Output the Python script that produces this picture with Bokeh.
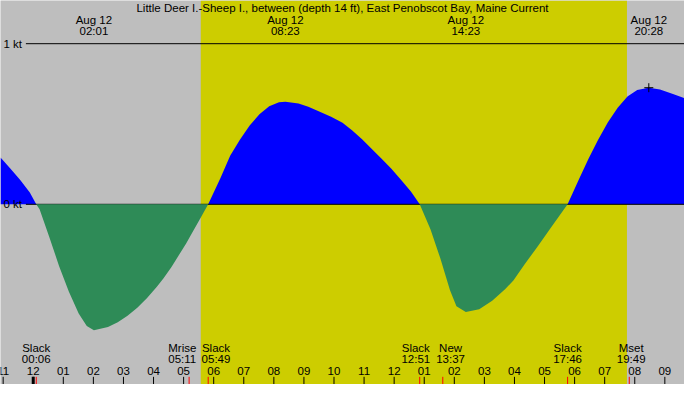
import numpy as np
from bokeh.plotting import figure
from bokeh.models import Range1d
from bokeh.core.properties import value
from bokeh.embed import file_html
from bokeh.resources import INLINE

TITLE = "Little Deer I.-Sheep I., between (depth 14 ft), East Penobscot Bay, Maine Current"

# current speed (kt), hours after midnight Aug 12
hours = [-1.088, -0.763, -0.439, -0.114, 0.10, 0.211, 0.536, 0.861, 1.186, 1.511,
         1.780, 2.017, 2.485, 2.810, 3.135, 3.460, 3.785, 4.110, 4.327, 4.597,
         5.084, 5.247, 5.572, 5.817, 6.222, 6.547, 6.871, 7.196, 7.521, 7.846,
         8.171, 8.383, 8.821, 9.146, 9.471, 9.903, 10.283, 10.608, 10.933, 11.258,
         11.583, 11.908, 12.233, 12.557, 12.85, 13.207, 13.532, 13.857, 14.071, 14.383,
         14.828, 15.260, 15.696, 15.965, 16.345, 16.777, 17.210, 17.767, 18.133, 18.458,
         18.782, 19.107, 19.432, 19.757, 20.082, 20.467, 20.839, 21.270, 21.654]
knots = [0.292, 0.223, 0.153, 0.074, 0.0, -0.030, -0.205, -0.385, -0.544, -0.680,
         -0.758, -0.784, -0.764, -0.734, -0.694, -0.644, -0.584, -0.514, -0.462, -0.390,
         -0.244, -0.190, -0.082, 0.0, 0.163, 0.302, 0.402, 0.491, 0.561, 0.611,
         0.635, 0.639, 0.627, 0.607, 0.581, 0.545, 0.508, 0.459, 0.405, 0.345,
         0.284, 0.222, 0.152, 0.079, 0.0, -0.156, -0.335, -0.535, -0.634, -0.670,
         -0.654, -0.600, -0.528, -0.474, -0.372, -0.261, -0.146, 0.0, 0.152, 0.282,
         0.402, 0.511, 0.601, 0.671, 0.711, 0.726, 0.715, 0.687, 0.660]

# max / min current
peak_hours = [2.017, 8.383, 14.383, 20.467]
peak_dates = ["Aug 12", "Aug 12", "Aug 12", "Aug 12"]
peak_times = ["02:01", "08:23", "14:23", "20:28"]

# slack water, moon events
event_hours = [0.10, 5.183, 5.817, 12.85, 13.617, 17.767, 19.817]
event_names = ["Slack", "Mrise", "Slack", "Slack", "New", "Slack", "Mset"]
event_times = ["00:06", "05:11", "05:49", "12:51", "13:37", "17:46", "19:49"]
event_shift = [0, -7, 8, -4, 8, 0, 2]  # px, pushes crowded labels apart

sunrise, sunset = 5.57, 19.74

tick_hours = list(range(-1, 22))
tick_labels = ["11", "12", "01", "02", "03", "04", "05", "06", "07", "08", "09", "10",
               "11", "12", "01", "02", "03", "04", "05", "06", "07", "08", "09"]

kt_levels = [1, 0]
kt_labels = ["1 kt", "0 kt"]

# reference pixel -> data helpers (30.78 px per hour, 167.3 px per knot)
def xpos(px):
    return (px - 33.5) / 30.78


def ypos(px):
    return (212.3 - px) / 167.3


X0, X1 = xpos(0), xpos(700)
Y0, Y1 = ypos(400), ypos(0)
W, H = 684, 384
FONT = value("Liberation Sans")
FS = "11.5px"

p = figure(width=W, height=H, x_range=Range1d(X0, X1), y_range=Range1d(Y0, Y1),
           x_axis_type=None, y_axis_type=None, toolbar_location=None,
           output_backend="svg", min_border=0)
p.grid.visible = False
p.outline_line_color = None
p.background_fill_color = "#bebebe"
p.border_fill_color = "#bebebe"

# daylight
p.quad(left=[sunrise], right=[sunset], bottom=[Y0], top=[Y1],
       fill_color="#cdcd00", line_color=None)

h = np.array(hours)
v = np.array(knots)
p.varea(x=h, y1=0, y2=np.clip(v, 0, None), fill_color="#0000ff")
p.segment(x0=xpos(26), x1=X1, y0=kt_levels, y1=kt_levels,
          line_color="black", line_width=1)
p.varea(x=h, y1=0, y2=np.clip(v, None, 0), fill_color="#2e8b57")

p.text(x=[xpos(3)] * 2, y=kt_levels, text=kt_labels, text_font=FONT,
       text_font_size=FS, text_align="left", text_baseline="middle")

p.text(x=[(X0 + X1) / 2], y=[ypos(8)], text=[TITLE], text_font=FONT,
       text_font_size=FS, text_align="center", text_baseline="middle")
p.text(x=peak_hours, y=[ypos(20)] * 4, text=peak_dates, text_font=FONT,
       text_font_size=FS, text_align="center", text_baseline="middle")
p.text(x=peak_hours, y=[ypos(31.5)] * 4, text=peak_times, text_font=FONT,
       text_font_size=FS, text_align="center", text_baseline="middle")
p.scatter(x=peak_hours[-1:], y=[max(knots)], marker="cross", size=9,
          line_color="black", line_width=1)

# bottom hour ticks
p.segment(x0=tick_hours, x1=tick_hours, y0=ypos(392), y1=Y0,
          line_color="black", line_width=1)
p.segment(x0=[0], x1=[0], y0=ypos(392), y1=Y0, line_color="black", line_width=3)
p.text(x=tick_hours, y=ypos(386), text=tick_labels, text_font=FONT,
       text_font_size=FS, text_align="center", text_baseline="middle")

# events
p.segment(x0=event_hours, x1=event_hours, y0=ypos(392), y1=Y0,
          line_color="red", line_width=1)
shift = [s * W / 700 for s in event_shift]
for name_row, yy in ((event_names, 362), (event_times, 373.5)):
    for eh, txt, s in zip(event_hours, name_row, shift):
        p.text(x=[eh], y=[ypos(yy)], text=[txt], x_offset=s, text_font=FONT,
               text_font_size=FS, text_align="center", text_baseline="middle")

open("out.html", "w").write(file_html(p, INLINE))
